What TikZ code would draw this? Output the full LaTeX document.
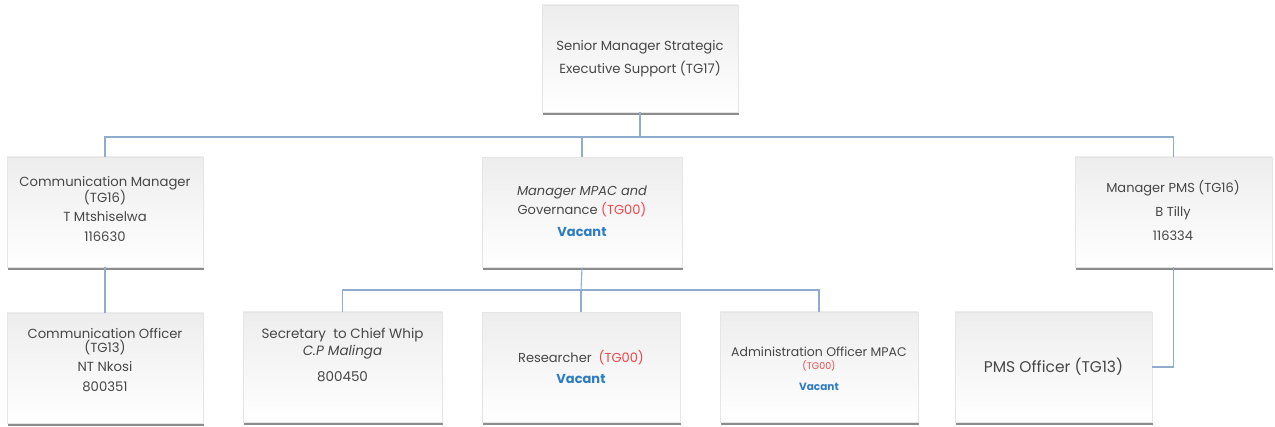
\documentclass[tikz,border=0pt]{standalone}
\usepackage{fontspec}
\setmainfont{Poppins}
\usetikzlibrary{shadows}

\definecolor{linkblue}{RGB}{143,172,206}
\definecolor{tgred}{RGB}{232,72,74}
\definecolor{vacblue}{RGB}{44,124,196}

\tikzset{
  post/.style={rectangle, draw=black!10, line width=0.4pt,
    top color=black!7, bottom color=white,
    drop shadow={shadow xshift=1.2pt, shadow yshift=-3pt, fill=black, opacity=0.45},
    inner sep=0pt},
  posttext/.style={align=center, text=black!72, inner sep=0pt},
  link/.style={draw=linkblue, line width=1.1pt}
}
\newcommand{\tg}[1]{{\color{tgred}#1}}
\newcommand{\vac}{{\bfseries\color{vacblue}Vacant}}

\begin{document}
\begin{tikzpicture}[x=1pt, y=-1pt]
\useasboundingbox (0,0) rectangle (1275,427);

% boxes
\node[post, minimum width=196pt, minimum height=107pt] (top) at (640,58.5) {};
\node[post, minimum width=196pt, minimum height=110pt] (cm)  at (105,212) {};
\node[post, minimum width=200pt, minimum height=110pt] (mp)  at (582,212.5) {};
\node[post, minimum width=197pt, minimum height=110pt] (pm)  at (1173.5,212) {};
\node[post, minimum width=196pt, minimum height=110pt] (co)  at (105,368) {};
\node[post, minimum width=199pt, minimum height=110pt] (sec) at (342.5,367) {};
\node[post, minimum width=198pt, minimum height=110pt] (res) at (581,367.5) {};
\node[post, minimum width=198pt, minimum height=110pt] (adm) at (819,367) {};
\node[post, minimum width=197pt, minimum height=110pt] (po)  at (1053.5,367) {};

% texts
\node[posttext, font=\fontsize{13.2}{23}\selectfont] (top-t) at (640,59)
  {Senior Manager Strategic\\Executive Support (TG17)};
\node[posttext, font=\fontsize{13.2}{14.5}\selectfont] (cm-t) at (105,209)
  {Communication Manager\\(TG16)\\[4pt]T Mtshiselwa\\[6pt]116630};
\node[posttext, font=\fontsize{13}{19}\selectfont] (mp-t) at (582,211)
  {\textit{Manager MPAC and}\\Governance \tg{(TG00)}\\[3pt]\vac};
\node[posttext, font=\fontsize{13}{24}\selectfont] (pm-t) at (1173,210)
  {Manager PMS (TG16)\\B Tilly\\116334};
\node[posttext, font=\fontsize{13.2}{14.5}\selectfont] (co-t) at (105,360)
  {Communication Officer\\(TG13)\\[4pt]NT Nkosi\\[6pt]800351};
\node[posttext, font=\fontsize{13.5}{17}\selectfont] (sec-t) at (342.5,355)
  {Secretary\ \ to Chief Whip\\\textit{C.P Malinga}\\[9pt]800450};
\node[posttext, font=\fontsize{13}{21}\selectfont] (res-t) at (581,367)
  {Researcher\ \ \tg{(TG00)}\\\vac};
\node[posttext, font=\fontsize{12.5}{13}\selectfont] (adm-t) at (819,369)
  {Administration Officer MPAC\\{\fontsize{9.5}{10}\selectfont\tg{(TG00)}}\\[8pt]{\fontsize{10.5}{11}\selectfont\vac}};
\node[posttext, font=\fontsize{15.5}{17}\selectfont] (po-t) at (1053.5,367)
  {PMS Officer (TG13)};

% connectors
\coordinate (bus1) at (640,137);
\coordinate (bus2) at (581,290);
\draw[link] (top.south) -- (bus1);
\draw[link] (bus1) -| (cm.north);
\draw[link] (bus1) -| (mp.north);
\draw[link] (bus1) -| (pm.north);
\draw[link] (cm.south) -- (co.north);
\draw[link] (mp.south) -- (bus2);
\draw[link] (bus2) -| (sec.north);
\draw[link] (bus2) -| (res.north);
\draw[link] (bus2) -| (adm.north);
\draw[link] (pm.south) |- (po.east);
\end{tikzpicture}
\end{document}
